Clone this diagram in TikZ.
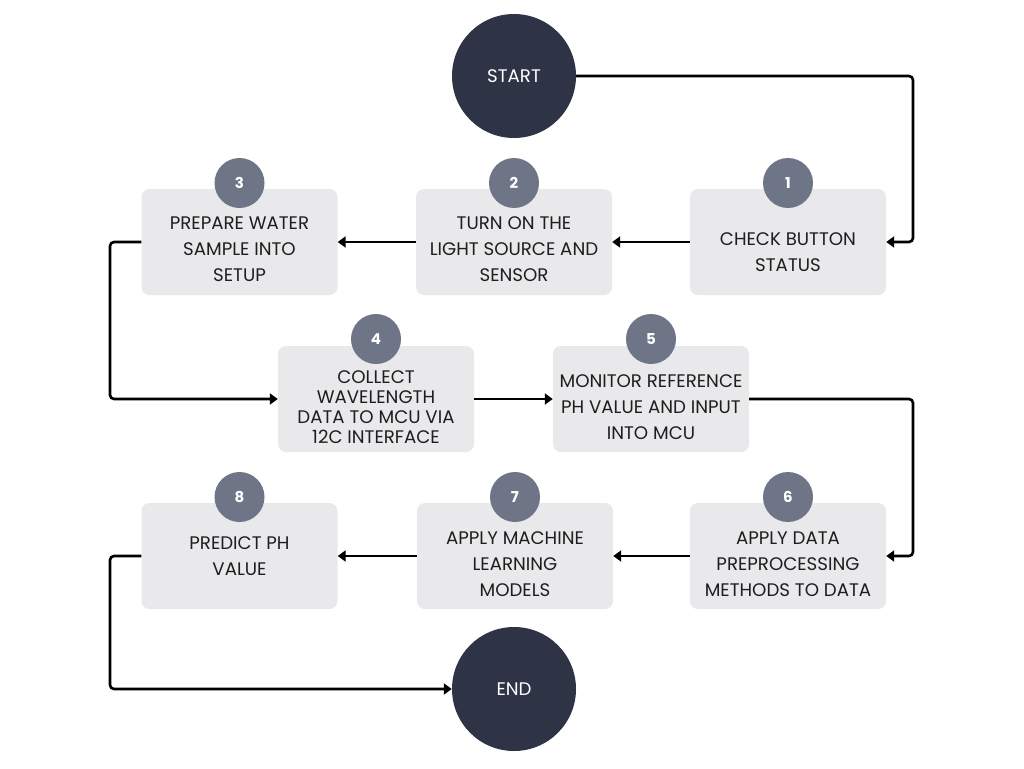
\documentclass[tikz,border=0pt]{standalone}
\usepackage{fontspec}
\setmainfont{Poppins}
\usetikzlibrary{arrows.meta}
\definecolor{darknavy}{HTML}{2E3446}
\definecolor{numgray}{HTML}{6E7587}
\definecolor{boxgray}{HTML}{E9E9EB}
\definecolor{txt}{HTML}{1E1E1E}
\tikzset{
  stepbox/.style={fill=boxgray, rounded corners=8pt, minimum width=196pt, minimum height=106pt, inner sep=0pt},
  steptext/.style={align=center, text=txt, inner sep=0pt, font=\fontsize{18.2}{26}\selectfont},
  tighttext/.style={align=center, text=txt, inner sep=0pt, font=\fontsize{18.2}{20}\selectfont},
  numdot/.style={circle, fill=numgray, minimum size=50pt, inner sep=0pt, text=white, font=\bfseries\fontsize{15}{16}\selectfont},
  term/.style={circle, fill=darknavy, minimum size=124pt, inner sep=0pt, text=white, font=\fontsize{18.2}{20}\selectfont},
  flow/.style={line width=2.6pt, rounded corners=4pt, -{Triangle[length=8pt,width=11pt]}, black}
}
\begin{document}
\begin{tikzpicture}[x=1pt,y=-1pt]
\useasboundingbox (0,0) rectangle (1024,768);
\fill[white] (0,0) rectangle (1024,768);
% boxes
\node[stepbox] (b1) at (788,242) {};
\node[stepbox] (b2) at (514,242) {};
\node[stepbox] (b3) at (239.5,242) {};
\node[stepbox] (b4) at (376,399) {};
\node[stepbox] (b5) at (651,399) {};
\node[stepbox] (b6) at (788,556) {};
\node[stepbox] (b7) at (515,556) {};
\node[stepbox] (b8) at (239.5,556) {};
% box texts
\node[steptext] (t1) at (788,252) {CHECK BUTTON\\STATUS};
\node[steptext] (t2) at (514,249) {TURN ON THE\\LIGHT SOURCE AND\\SENSOR};
\node[steptext] (t3) at (239.5,249) {PREPARE WATER\\SAMPLE INTO\\SETUP};
\node[tighttext] (t4) at (376,407) {COLLECT\\WAVELENGTH\\DATA TO MCU VIA\\12C INTERFACE};
\node[steptext] (t5) at (651,407) {MONITOR REFERENCE\\PH VALUE AND INPUT\\INTO MCU};
\node[steptext] (t6) at (788,564) {APPLY DATA\\PREPROCESSING\\METHODS TO DATA};
\node[steptext] (t7) at (515,564) {APPLY MACHINE\\LEARNING\\MODELS};
\node[steptext] (t8) at (239.5,556) {PREDICT PH\\VALUE};
% number dots
\node[numdot] (n1) at (788,183) {1};
\node[numdot] (n2) at (514,183) {2};
\node[numdot] (n3) at (239.5,183) {3};
\node[numdot] (n4) at (376,339) {4};
\node[numdot] (n5) at (651,339) {5};
\node[numdot] (n6) at (788,497) {6};
\node[numdot] (n7) at (515,497) {7};
\node[numdot] (n8) at (239.5,497) {8};
% terminals
\node[term] (start) at (514,76) {START};
\node[term] (end) at (514,689) {END};
% connectors
\draw[flow] (start.east) -- (913,76) -- (913,242) -- (b1.east);
\draw[flow] (b1.west) -- (b2.east);
\draw[flow] (b2.west) -- (b3.east);
\draw[flow] (b3.west) -- (110,242) -- (110,399) -- (b4.west);
\draw[flow] (b4.east) -- (b5.west);
\draw[flow] (b5.east) -- (913,399) -- (913,556) -- (b6.east);
\draw[flow] (b6.west) -- (b7.east);
\draw[flow] (b7.west) -- (b8.east);
\draw[flow] (b8.west) -- (110,556) -- (110,689) -- (end.west);
\end{tikzpicture}
\end{document}
